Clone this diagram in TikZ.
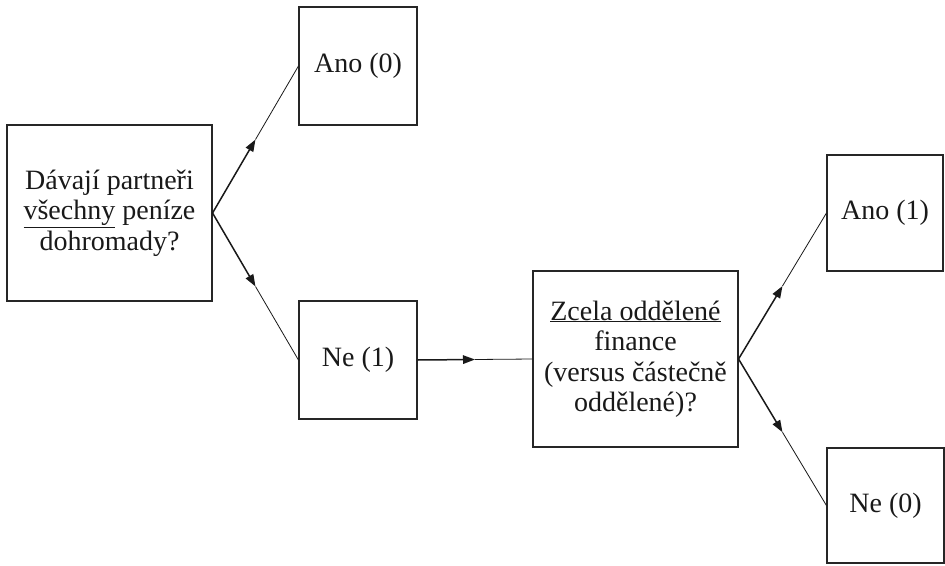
\documentclass[tikz,border=0pt]{standalone}
\usepackage{fontspec}
\setmainfont{Liberation Serif}
\usetikzlibrary{arrows.meta,calc}
\tikzset{
  box/.style={draw=black!85, line width=1.1pt, inner sep=0pt, align=center,
    font=\fontsize{28}{30.5}\selectfont, text=black!90},
  lead/.style={line width=1.5pt, draw=black!90, -{Triangle[length=12pt,width=8.5pt]}},
  trail/.style={line width=0.8pt, draw=black!90},
}
\begin{document}
\begin{tikzpicture}[x=1pt,y=-1pt]
\useasboundingbox (0,0) rectangle (945,565);
\node[box, minimum width=205pt, minimum height=176pt] (q1) at (109.5,213)
  {Dávají partneři\\\underline{všechny} peníze\\dohromady?};
\node[box, minimum width=118pt, minimum height=118pt] (ano0) at (358,66) {Ano (0)};
\node[box, minimum width=118pt, minimum height=118pt] (ne1) at (358,360) {Ne (1)};
\node[box, minimum width=205pt, minimum height=176pt] (q2) at (635.5,359)
  {\underline{Zcela oddělené}\\finance\\(versus částečně\\oddělené)?};
\node[box, minimum width=116pt, minimum height=116pt] (ano1) at (885,213) {Ano (1)};
\node[box, minimum width=117pt, minimum height=115pt] (ne0) at (885.5,505.5) {Ne (0)};
% connectors
\coordinate (m1) at ($(q1.east)!0.5!(ano0.west)$);
\draw[lead] (q1.east) -- (m1);
\draw[trail] (m1) -- (ano0.west);
\coordinate (m2) at ($(q1.east)!0.5!(ne1.west)$);
\draw[lead] (q1.east) -- (m2);
\draw[trail] (m2) -- (ne1.west);
\coordinate (m3) at ($(ne1.east)!0.5!(q2.west)$);
\draw[lead] (ne1.east) -- (m3);
\draw[trail] (m3) -- (q2.west);
\coordinate (m4) at ($(q2.east)!0.5!(ano1.west)$);
\draw[lead] (q2.east) -- (m4);
\draw[trail] (m4) -- (ano1.west);
\coordinate (m5) at ($(q2.east)!0.5!(ne0.west)$);
\draw[lead] (q2.east) -- (m5);
\draw[trail] (m5) -- (ne0.west);
\end{tikzpicture}
\end{document}
